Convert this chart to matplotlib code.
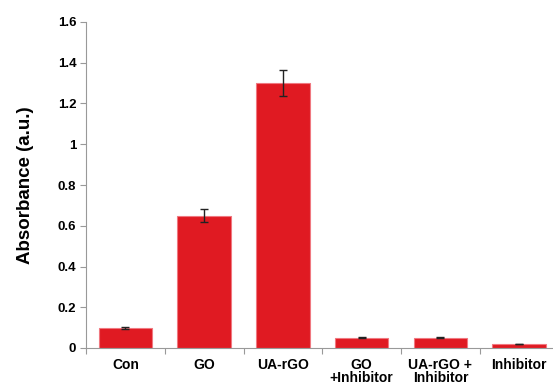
import numpy as np
import matplotlib.pyplot as plt

plt.rcParams['font.family'] = ['Liberation Sans', 'DejaVu Sans']
plt.rcParams['font.weight'] = 'bold'

labels = ['Con', 'GO', 'UA-rGO', 'GO\n+Inhibitor', 'UA-rGO +\nInhibitor', 'Inhibitor']
absorbance = [0.10, 0.65, 1.30, 0.05, 0.05, 0.02]
errors = [0.005, 0.032, 0.064, 0.003, 0.003, 0.002]

W, H = 553, 385
fig = plt.figure(figsize=(W / 100, H / 100), dpi=100)
# axis box in pixels: left 86, right ~558 (runs past the edge), y from 22 to 348
ax = fig.add_axes([86 / W, (H - 348) / H, (558.5 - 86) / W, (348 - 22) / H])

x = np.arange(len(labels))
ax.bar(x, absorbance, width=0.68, color='#E01A22', edgecolor='#F07880',
       linewidth=0.8, zorder=2)
ax.errorbar(x, absorbance, yerr=errors, fmt='none', ecolor='#222222',
            elinewidth=1.0, capsize=3, capthick=1.0, zorder=3)

ax.set_xlim(-0.5, len(labels) - 0.5)
ax.set_ylim(0, 1.6)
ax.set_yticks(np.arange(0, 1.61, 0.2))
ax.set_yticklabels(['0', '0.2', '0.4', '0.6', '0.8', '1', '1.2', '1.4', '1.6'],
                   fontsize=9.5, fontweight='bold')

# category labels centred under bars, tick marks between categories
ax.set_xticks(np.arange(-0.5, len(labels), 1.0))
ax.set_xticklabels([])
ax.set_xticks(x, minor=True)
ax.set_xticklabels(labels, minor=True, fontsize=10, fontweight='bold',
                   linespacing=0.95)
ax.tick_params(axis='x', which='minor', length=0, pad=7)
ax.tick_params(axis='x', which='major', length=4, color='#999999', width=0.8)
ax.tick_params(axis='y', length=4, color='#999999', width=0.8, pad=3)

for s in ['top', 'right']:
    ax.spines[s].set_visible(False)
for s in ['left', 'bottom']:
    ax.spines[s].set_color('#999999')
    ax.spines[s].set_linewidth(0.8)

ax.set_ylabel('Absorbance (a.u.)', fontsize=13.5, fontweight='bold', labelpad=17)

fig.savefig('out.png', dpi=100)
